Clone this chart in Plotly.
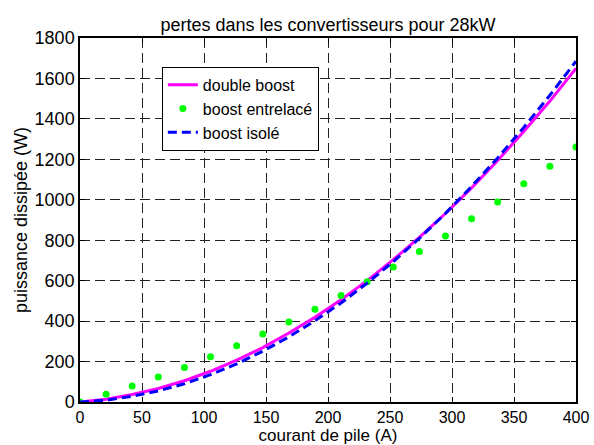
import plotly.graph_objects as go

# Data
courant = [0, 21.05, 42.1, 63.16, 84.21, 105.26, 126.32, 147.37, 168.42, 189.47,
           210.53, 231.58, 252.63, 273.68, 294.74, 315.79, 336.84, 357.89, 378.95, 400]
double_boost = [0, 14, 37, 67, 105, 152, 207, 269, 341, 419,
                506, 600, 704, 814, 932, 1059, 1194, 1338, 1488, 1650]
boost_entrelace = [0, 38, 79, 124, 170, 224, 278, 336, 395, 459,
                   527, 595, 667, 744, 821, 906, 989, 1079, 1166, 1261]
boost_isole = [0, 9, 28, 55, 90, 135, 188, 251, 322, 402,
               490, 588, 694, 809, 933, 1066, 1207, 1358, 1517, 1685]

x_ticks = [0, 50, 100, 150, 200, 250, 300, 350, 400]
y_ticks = [0, 200, 400, 600, 800, 1000, 1200, 1400, 1600, 1800]

FONT = "Liberation Sans, Arial, sans-serif"
FS = 18

fig = go.Figure()
fig.add_trace(go.Scatter(x=courant, y=double_boost, mode="lines", name="double boost",
                         line=dict(color="#ff00ff", width=3)))
fig.add_trace(go.Scatter(x=courant, y=boost_entrelace, mode="markers", name="boost entrelacé",
                         marker=dict(color="#00ff00", size=7, symbol="circle")))
fig.add_trace(go.Scatter(x=courant, y=boost_isole, mode="lines", name="boost isolé",
                         line=dict(color="#0000ff", width=3, dash="9px,5px")))

axis_common = dict(showline=True, linecolor="black", linewidth=1.5, mirror="ticks",
                   ticks="inside", ticklen=5, tickcolor="black", automargin=False,
                   showgrid=True, gridcolor="#222222", griddash="10px,5px", gridwidth=1,
                   zeroline=False)

fig.update_layout(
    width=594, height=445,
    margin=dict(l=80, r=18, t=38, b=43),
    paper_bgcolor="white", plot_bgcolor="white",
    font=dict(family=FONT, color="black"),
    title=dict(text="pertes dans les convertisseurs pour 28kW", x=0.5, xref="paper",
               xanchor="center", y=0.944, yref="container", yanchor="middle",
               font=dict(family=FONT, size=FS, color="black")),
    xaxis=dict(range=[0, 400], tickvals=x_ticks, **axis_common,
               tickfont=dict(family=FONT, size=16, color="black"),
               title=dict(text="courant de pile (A)", font=dict(family=FONT, size=17), standoff=5)),
    yaxis=dict(range=[0, 1800], tickvals=y_ticks, **axis_common,
               tickfont=dict(family=FONT, size=FS, color="black"),
               title=dict(text="puissance dissipée (W)", font=dict(family=FONT, size=FS), standoff=2)),
    legend=dict(x=0.165, y=0.921, xanchor="left", yanchor="top",
                bgcolor="white", bordercolor="black", borderwidth=1,
                font=dict(family=FONT, size=16, color="black"),
                tracegroupgap=0, itemwidth=30),
    showlegend=True,
)

fig.write_html("out.html", config={"displayModeBar": False},
               post_script="document.body.style.margin='0';document.body.style.overflow='hidden';")
